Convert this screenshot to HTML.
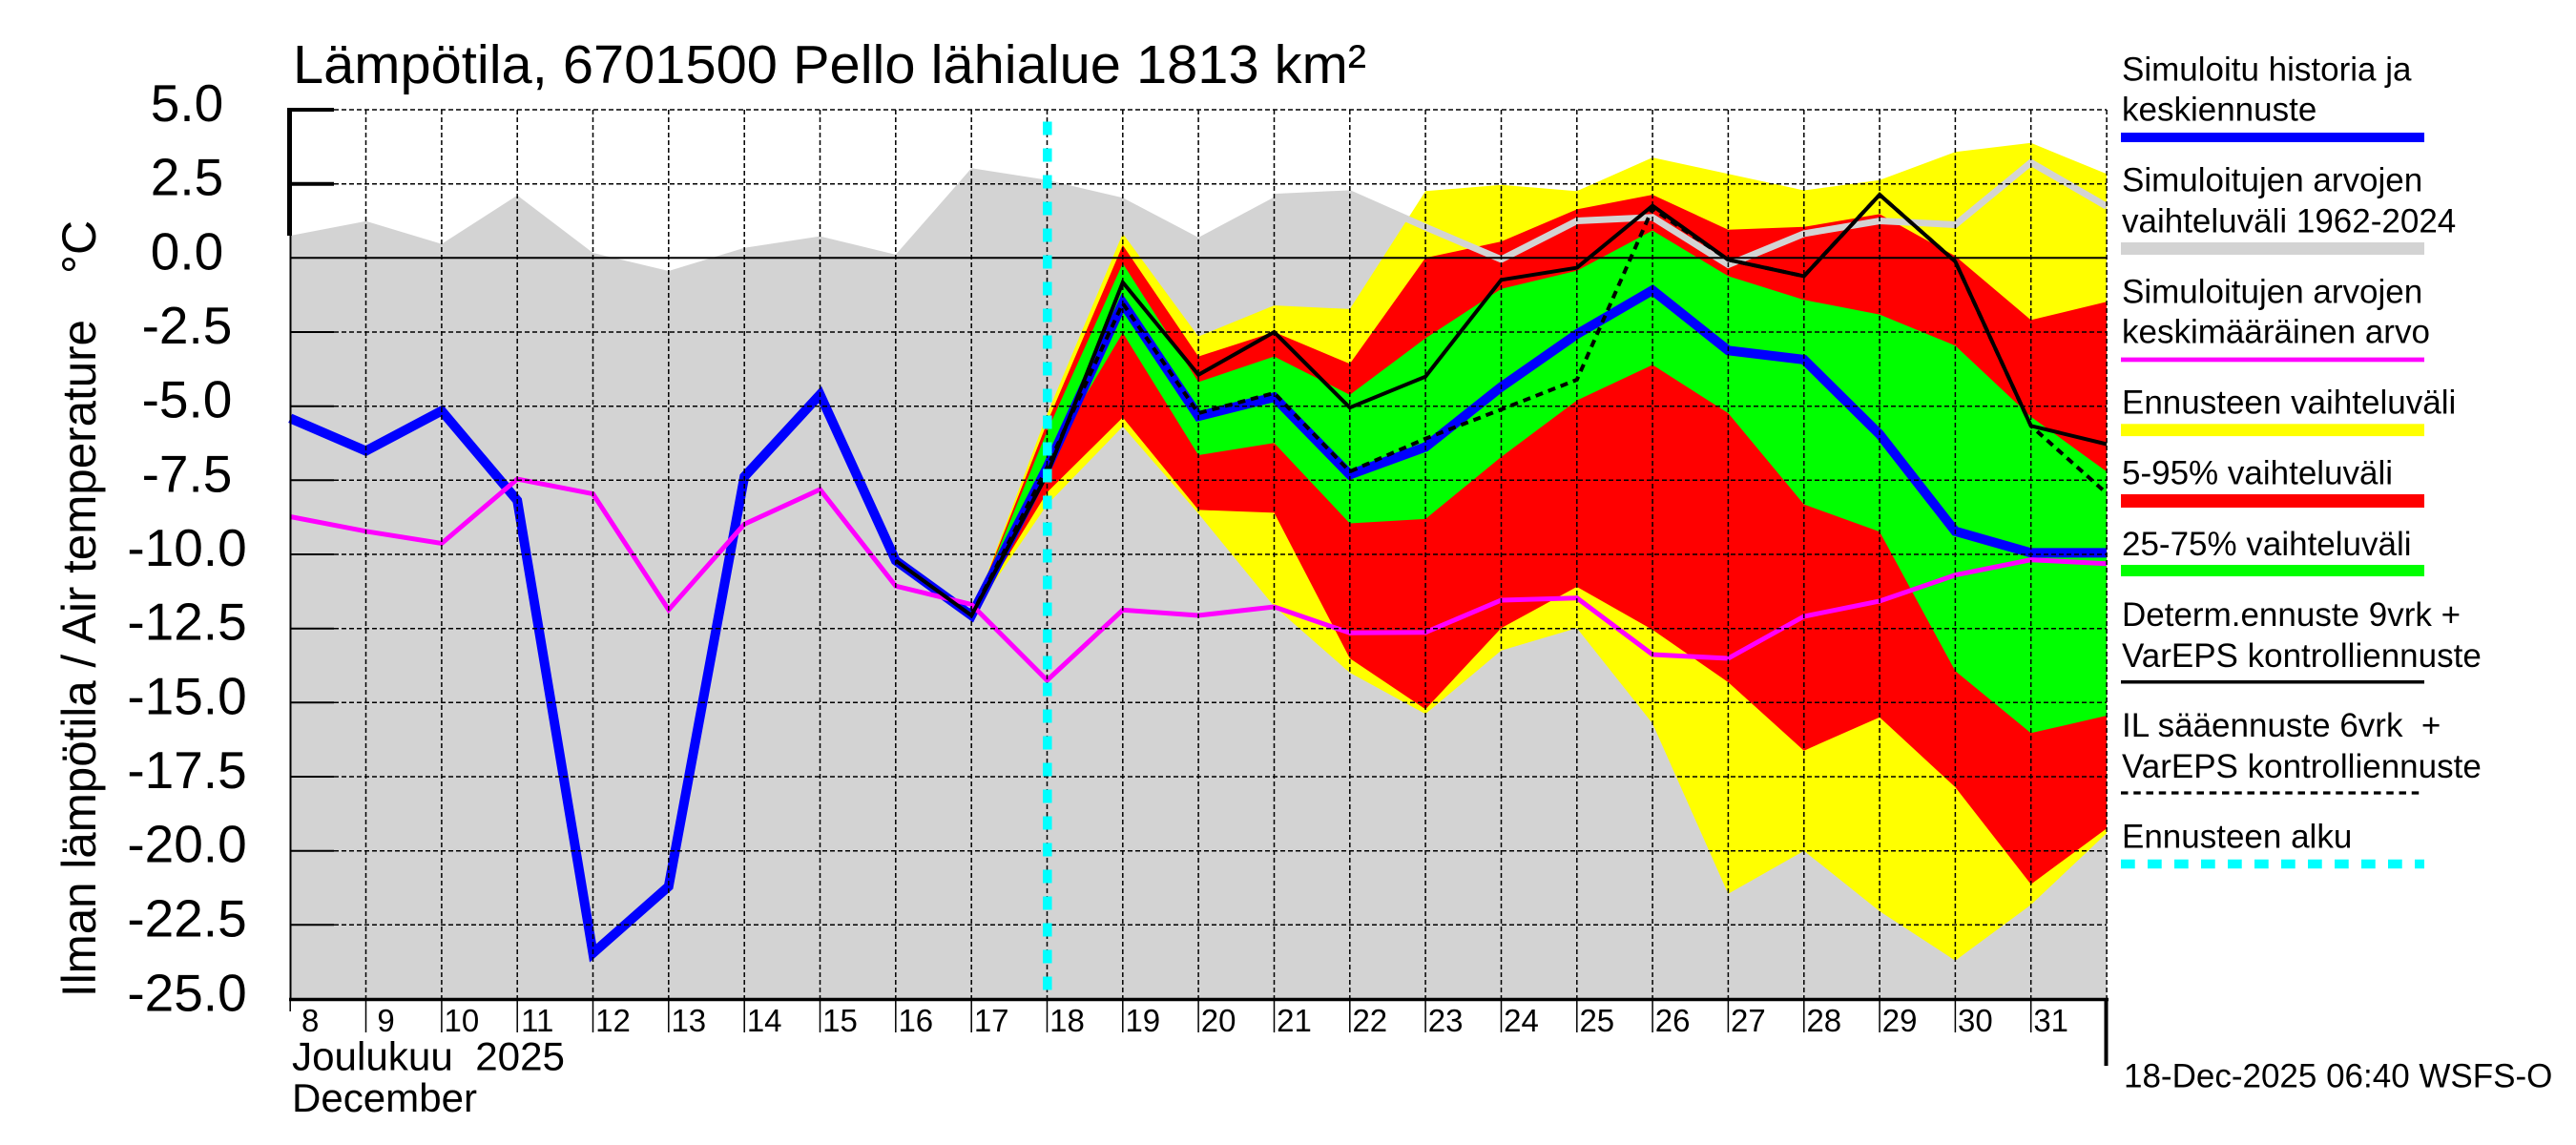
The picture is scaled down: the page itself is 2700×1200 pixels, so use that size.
<!DOCTYPE html>
<html>
<head>
<meta charset="utf-8">
<style>
html,body{margin:0;padding:0;background:#fff;}
svg{display:block;}
text{font-family:"Liberation Sans",Arial,sans-serif;fill:#000;}
</style>
</head>
<body>
<svg width="2700" height="1200" viewBox="0 0 2700 1200" xmlns="http://www.w3.org/2000/svg">
<rect x="0" y="0" width="2700" height="1200" fill="#fff"/>

<!-- Title -->
<text x="307" y="87" font-size="57" textLength="1125" lengthAdjust="spacingAndGlyphs">Lämpötila, 6701500 Pello lähialue 1813 km²</text>

<!-- Y axis label -->
<text transform="translate(100,1045) rotate(-90)" font-size="50" textLength="710" lengthAdjust="spacingAndGlyphs">Ilman lämpötila / Air temperature</text>
<text transform="translate(100,287) rotate(-90)" font-size="50">°C</text>

<!-- Gray climatology band -->
<polygon fill="#d3d3d3" points="304.2,1047 304.2,247.0 383.5,231.8 462.9,255.7 542.2,204.8 621.5,265.0 700.8,284.0 780.2,259.8 859.5,247.6 938.8,266.9 1018.2,176.2 1097.5,188.6 1176.8,207.3 1256.1,248.9 1335.5,206.6 1414.8,202.9 1494.1,238.0 1573.5,271.9 1652.8,231.5 1732.1,227.8 1811.4,277.5 1890.8,244.9 1970.1,231.5 2049.4,235.5 2128.7,170.3 2208.1,216.3 2208.1,1047"/>

<!-- Yellow band -->
<polygon fill="#ffff00" points="1018.2,645 1097.5,434 1176.8,244.7 1256.1,352.6 1335.5,320.1 1414.8,323.9 1494.1,200.3 1573.5,193.8 1652.8,200.3 1732.1,165.1 1811.4,182.3 1890.8,199.5 1970.1,188.8 2049.4,159.3 2128.7,149.8 2208.1,182.3 2208.1,873.3 2128.7,948.3 2049.4,1006.7 1970.1,955 1890.8,891.7 1811.4,936.7 1732.1,758.3 1652.8,658.3 1573.5,681.7 1494.1,748.3 1414.8,705 1335.5,635.5 1256.1,538.2 1176.8,447 1097.5,529"/>

<!-- Red band -->
<polygon fill="#ff0000" points="1018.2,645 1097.5,443 1176.8,256.9 1256.1,373.6 1335.5,348 1414.8,381.3 1494.1,270.3 1573.5,253.1 1652.8,219.4 1732.1,204.1 1811.4,240.8 1890.8,237.8 1970.1,224.4 2049.4,268.4 2128.7,335.4 2208.1,316.2 2208.1,868.3 2128.7,926.7 2049.4,825 1970.1,751.7 1890.8,786.7 1811.4,715 1732.1,660 1652.8,615 1573.5,658.3 1494.1,743.3 1414.8,690 1335.5,537.4 1256.1,534.4 1176.8,437.5 1097.5,516"/>

<!-- Green band -->
<polygon fill="#00ff00" points="1018.2,645 1097.5,452 1176.8,276 1256.1,400.4 1335.5,373.6 1414.8,413.8 1494.1,354.5 1573.5,302.8 1652.8,283.7 1732.1,241.6 1811.4,289.4 1890.8,314.3 1970.1,329.6 2049.4,362.2 2128.7,436.8 2208.1,494.2 2208.1,750 2128.7,768.3 2049.4,703.3 1970.1,557.3 1890.8,528.6 1811.4,433 1732.1,382.4 1652.8,419.6 1573.5,478.9 1494.1,543.9 1414.8,548.5 1335.5,464.3 1256.1,477 1176.8,348.8 1097.5,482"/>

<!-- Gray max line over forecast -->
<polyline fill="none" stroke="#d3d3d3" stroke-width="7" points="1335.5,206.6 1414.8,202.9 1494.1,238.0 1573.5,271.9 1652.8,231.5 1732.1,227.8 1811.4,277.5 1890.8,244.9 1970.1,231.5 2049.4,235.5 2128.7,170.3 2208.1,216.3"/>

<!-- Blue simulated history / mean forecast -->
<polyline fill="none" stroke="#0000ff" stroke-width="10" stroke-linejoin="miter" stroke-miterlimit="6" points="304.2,438.4 383.5,472.6 462.9,430.6 542.2,524.5 621.5,998.9 700.8,929.0 780.2,499.6 859.5,413.5 938.8,587.5 1018.2,645.0 1097.5,490 1176.8,317.6 1256.1,436.2 1335.5,416.3 1414.8,497.4 1494.1,468.5 1573.5,405.5 1652.8,350.2 1732.1,304.2 1811.4,367.3 1890.8,376.9 1970.1,455.2 2049.4,556.8 2128.7,579.4 2208.1,579.4"/>

<!-- Magenta mean -->
<polyline fill="none" stroke="#ff00ff" stroke-width="5" points="304.2,541.5 383.5,556.8 462.9,569.5 542.2,502.1 621.5,517.6 700.8,639.1 780.2,549.3 859.5,513.0 938.8,614.2 1018.2,633.5 1097.5,713 1176.8,639.3 1256.1,645 1335.5,636 1414.8,663.3 1494.1,662.7 1573.5,629 1652.8,626.7 1732.1,686 1811.4,690 1890.8,646 1970.1,630 2049.4,602.7 2128.7,586.7 2208.1,590.7"/>

<!-- Black deterministic -->
<polyline fill="none" stroke="#000" stroke-width="4" points="938.8,587.5 1018.2,645.0 1097.5,497.1 1176.8,295.9 1256.1,392.8 1335.5,348.0 1414.8,427.2 1494.1,394.7 1573.5,293.3 1652.8,280.6 1732.1,215.6 1811.4,272.2 1890.8,289.4 1970.1,204.1 2049.4,274.1 2128.7,446.3 2208.1,465.5"/>

<!-- Black dashed IL -->
<polyline fill="none" stroke="#000" stroke-width="4" stroke-dasharray="8 6" points="1018.2,645.0 1097.5,490 1176.8,318 1256.1,433 1335.5,411.9 1414.8,494.2 1494.1,459.7 1573.5,429.1 1652.8,398 1732.1,218.6 1811.4,272.2 1890.8,289.4 1970.1,204.1 2049.4,274.1 2128.7,446.3 2208.1,517.1"/>

<!-- Grid -->
<g stroke="#000" stroke-width="1.5" stroke-dasharray="5 3" fill="none">
<line x1="350" y1="115" x2="2208" y2="115"/>
<line x1="350" y1="192.7" x2="2208" y2="192.7"/>
<line x1="350" y1="348" x2="2208" y2="348"/>
<line x1="350" y1="425.7" x2="2208" y2="425.7"/>
<line x1="350" y1="503.3" x2="2208" y2="503.3"/>
<line x1="350" y1="581" x2="2208" y2="581"/>
<line x1="350" y1="658.7" x2="2208" y2="658.7"/>
<line x1="350" y1="736.3" x2="2208" y2="736.3"/>
<line x1="350" y1="814" x2="2208" y2="814"/>
<line x1="350" y1="891.7" x2="2208" y2="891.7"/>
<line x1="350" y1="969.3" x2="2208" y2="969.3"/>
<line x1="383.5" y1="115" x2="383.5" y2="1047"/>
<line x1="462.9" y1="115" x2="462.9" y2="1047"/>
<line x1="542.2" y1="115" x2="542.2" y2="1047"/>
<line x1="621.5" y1="115" x2="621.5" y2="1047"/>
<line x1="700.8" y1="115" x2="700.8" y2="1047"/>
<line x1="780.2" y1="115" x2="780.2" y2="1047"/>
<line x1="859.5" y1="115" x2="859.5" y2="1047"/>
<line x1="938.8" y1="115" x2="938.8" y2="1047"/>
<line x1="1018.2" y1="115" x2="1018.2" y2="1047"/>
<line x1="1097.5" y1="115" x2="1097.5" y2="1047"/>
<line x1="1176.8" y1="115" x2="1176.8" y2="1047"/>
<line x1="1256.1" y1="115" x2="1256.1" y2="1047"/>
<line x1="1335.5" y1="115" x2="1335.5" y2="1047"/>
<line x1="1414.8" y1="115" x2="1414.8" y2="1047"/>
<line x1="1494.1" y1="115" x2="1494.1" y2="1047"/>
<line x1="1573.5" y1="115" x2="1573.5" y2="1047"/>
<line x1="1652.8" y1="115" x2="1652.8" y2="1047"/>
<line x1="1732.1" y1="115" x2="1732.1" y2="1047"/>
<line x1="1811.4" y1="115" x2="1811.4" y2="1047"/>
<line x1="1890.8" y1="115" x2="1890.8" y2="1047"/>
<line x1="1970.1" y1="115" x2="1970.1" y2="1047"/>
<line x1="2049.4" y1="115" x2="2049.4" y2="1047"/>
<line x1="2128.7" y1="115" x2="2128.7" y2="1047"/>
<line x1="2208.1" y1="115" x2="2208.1" y2="1047"/>
</g>
<!-- zero line -->
<line x1="304" y1="270.3" x2="2208" y2="270.3" stroke="#000" stroke-width="2"/>

<!-- Y ticks -->
<g stroke="#000">
<line x1="304" y1="115" x2="350" y2="115" stroke-width="4"/>
<line x1="304" y1="192.7" x2="350" y2="192.7" stroke-width="4"/>
<line x1="304" y1="348" x2="350" y2="348" stroke-width="2"/>
<line x1="304" y1="425.7" x2="350" y2="425.7" stroke-width="2"/>
<line x1="304" y1="503.3" x2="350" y2="503.3" stroke-width="2"/>
<line x1="304" y1="581" x2="350" y2="581" stroke-width="2"/>
<line x1="304" y1="658.7" x2="350" y2="658.7" stroke-width="2"/>
<line x1="304" y1="736.3" x2="350" y2="736.3" stroke-width="2"/>
<line x1="304" y1="814" x2="350" y2="814" stroke-width="2"/>
<line x1="304" y1="891.7" x2="350" y2="891.7" stroke-width="2"/>
<line x1="304" y1="969.3" x2="350" y2="969.3" stroke-width="2"/>
</g>

<!-- Axes -->
<rect x="301" y="113" width="5" height="134" fill="#000"/>
<line x1="304.5" y1="113" x2="304.5" y2="1049" stroke="#000" stroke-width="2"/>
<line x1="303" y1="1047.5" x2="2210" y2="1047.5" stroke="#000" stroke-width="3.5"/>

<!-- X ticks -->
<g stroke="#000" stroke-width="1.5">
<line x1="304.2" y1="1047" x2="304.2" y2="1060"/>
<line x1="383.5" y1="1047" x2="383.5" y2="1082"/>
<line x1="462.9" y1="1047" x2="462.9" y2="1082"/>
<line x1="542.2" y1="1047" x2="542.2" y2="1082"/>
<line x1="621.5" y1="1047" x2="621.5" y2="1082"/>
<line x1="700.8" y1="1047" x2="700.8" y2="1082"/>
<line x1="780.2" y1="1047" x2="780.2" y2="1082"/>
<line x1="859.5" y1="1047" x2="859.5" y2="1082"/>
<line x1="938.8" y1="1047" x2="938.8" y2="1082"/>
<line x1="1018.2" y1="1047" x2="1018.2" y2="1082"/>
<line x1="1097.5" y1="1047" x2="1097.5" y2="1082"/>
<line x1="1176.8" y1="1047" x2="1176.8" y2="1082"/>
<line x1="1256.1" y1="1047" x2="1256.1" y2="1082"/>
<line x1="1335.5" y1="1047" x2="1335.5" y2="1082"/>
<line x1="1414.8" y1="1047" x2="1414.8" y2="1082"/>
<line x1="1494.1" y1="1047" x2="1494.1" y2="1082"/>
<line x1="1573.5" y1="1047" x2="1573.5" y2="1082"/>
<line x1="1652.8" y1="1047" x2="1652.8" y2="1082"/>
<line x1="1732.1" y1="1047" x2="1732.1" y2="1082"/>
<line x1="1811.4" y1="1047" x2="1811.4" y2="1082"/>
<line x1="1890.8" y1="1047" x2="1890.8" y2="1082"/>
<line x1="1970.1" y1="1047" x2="1970.1" y2="1082"/>
<line x1="2049.4" y1="1047" x2="2049.4" y2="1082"/>
<line x1="2128.7" y1="1047" x2="2128.7" y2="1082"/>
</g>
<line x1="2207.5" y1="1046" x2="2207.5" y2="1117" stroke="#000" stroke-width="4"/>

<!-- Forecast start (cyan) -->
<line x1="1097.8" y1="127.5" x2="1097.8" y2="1047" stroke="#00ffff" stroke-width="9.5" stroke-dasharray="14 14"/>

<!-- Y tick labels -->
<g font-size="55" text-anchor="middle">
<text x="196" y="127">5.0</text>
<text x="196" y="204.7">2.5</text>
<text x="196" y="282.3">0.0</text>
<text x="196" y="360">-2.5</text>
<text x="196" y="437.7">-5.0</text>
<text x="196" y="515.3">-7.5</text>
<text x="196" y="593">-10.0</text>
<text x="196" y="670.7">-12.5</text>
<text x="196" y="748.3">-15.0</text>
<text x="196" y="826">-17.5</text>
<text x="196" y="903.7">-20.0</text>
<text x="196" y="981.3">-22.5</text>
<text x="196" y="1059.5">-25.0</text>
</g>

<!-- X day labels -->
<g font-size="33" text-anchor="middle">
<text x="325.2" y="1081">8</text>
<text x="404.5" y="1081">9</text>
<text x="483.9" y="1081">10</text>
<text x="563.2" y="1081">11</text>
<text x="642.5" y="1081">12</text>
<text x="721.8" y="1081">13</text>
<text x="801.2" y="1081">14</text>
<text x="880.5" y="1081">15</text>
<text x="959.8" y="1081">16</text>
<text x="1039.2" y="1081">17</text>
<text x="1118.5" y="1081">18</text>
<text x="1197.8" y="1081">19</text>
<text x="1277.1" y="1081">20</text>
<text x="1356.5" y="1081">21</text>
<text x="1435.8" y="1081">22</text>
<text x="1515.1" y="1081">23</text>
<text x="1594.5" y="1081">24</text>
<text x="1673.8" y="1081">25</text>
<text x="1753.1" y="1081">26</text>
<text x="1832.4" y="1081">27</text>
<text x="1911.8" y="1081">28</text>
<text x="1991.1" y="1081">29</text>
<text x="2070.4" y="1081">30</text>
<text x="2149.7" y="1081">31</text>
</g>
<text x="306" y="1121.5" font-size="42" textLength="286" lengthAdjust="spacingAndGlyphs" xml:space="preserve">Joulukuu  2025</text>
<text x="306" y="1165" font-size="42" textLength="194" lengthAdjust="spacingAndGlyphs">December</text>

<!-- Legend -->
<g font-size="35">
<text x="2224" y="84.3">Simuloitu historia ja</text>
<text x="2224" y="126.4">keskiennuste</text>
<text x="2224" y="200.7">Simuloitujen arvojen</text>
<text x="2224" y="243.6">vaihteluväli 1962-2024</text>
<text x="2224" y="317.5">Simuloitujen arvojen</text>
<text x="2224" y="359.3">keskimääräinen arvo</text>
<text x="2224" y="433.6">Ennusteen vaihteluväli</text>
<text x="2224" y="507.5">5-95% vaihteluväli</text>
<text x="2224" y="581.8">25-75% vaihteluväli</text>
<text x="2224" y="655.9">Determ.ennuste 9vrk +</text>
<text x="2224" y="698.8">VarEPS kontrolliennuste</text>
<text x="2224" y="772.2" xml:space="preserve">IL sääennuste 6vrk  +</text>
<text x="2224" y="815.1">VarEPS kontrolliennuste</text>
<text x="2224" y="888.6">Ennusteen alku</text>
<text x="2226" y="1139.6">18-Dec-2025 06:40 WSFS-O</text>
</g>
<rect x="2223" y="139" width="318" height="10" fill="#0000ff"/>
<rect x="2223" y="254" width="318" height="13" fill="#d3d3d3"/>
<rect x="2223" y="374.6" width="318" height="4.7" fill="#ff00ff"/>
<rect x="2223" y="444.3" width="318" height="12.8" fill="#ffff00"/>
<rect x="2223" y="518" width="318" height="14" fill="#ff0000"/>
<rect x="2223" y="592" width="318" height="12" fill="#00ff00"/>
<rect x="2223" y="713" width="318" height="3.5" fill="#000"/>
<line x1="2223" y1="831" x2="2541" y2="831" stroke="#000" stroke-width="3.3" stroke-dasharray="7.5 5.75"/>
<line x1="2223" y1="905.5" x2="2541" y2="905.5" stroke="#00ffff" stroke-width="9.4" stroke-dasharray="14.7 13.3"/>
</svg>
</body>
</html>
